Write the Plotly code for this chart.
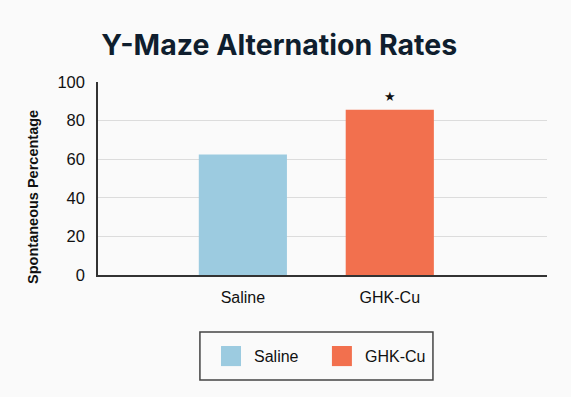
import plotly.graph_objects as go

categories = ["Saline", "GHK-Cu"]
values = [62.5, 85.6]
colors = ["#9ccbe0", "#f2704e"]
y_ticks = [0, 20, 40, 60, 80, 100]
significance = ["", "★"]
y_title = "Spontaneous Percentage"

fig = go.Figure()
fig.add_trace(go.Bar(
    x=categories, y=values, width=0.6,
    marker=dict(color=colors, line=dict(width=0)),
    showlegend=False, hoverinfo="x+y",
))
# significance markers
for c, v, s in zip(categories, values, significance):
    if s:
        fig.add_annotation(x=c, y=v, text=s, showarrow=False, yshift=13,
                           font=dict(size=13, color="#111111", family="DejaVu Sans"))

# y-axis title (placed as annotation to match offset)
fig.add_annotation(xref="paper", yref="paper", x=-0.145, y=0.404, text="<b>" + y_title + "</b>",
                   textangle=-90, showarrow=False, xanchor="center", yanchor="middle",
                   font=dict(size=14.5, color="#111111", family="Liberation Sans"))

# custom legend
lx0, lx1, ly0, ly1 = 0.227, 0.746, -0.295, -0.544
fig.add_shape(type="rect", xref="paper", yref="paper", x0=lx0, x1=lx1, y0=ly0, y1=ly1,
              line=dict(color="#444444", width=1.5), fillcolor="rgba(0,0,0,0)")
sw_x = [0.274, 0.521]
for c, col, sx in zip(categories, colors, sw_x):
    fig.add_shape(type="rect", xref="paper", yref="paper", x0=sx, x1=sx + 0.0445,
                  y0=-0.368, y1=-0.472, line=dict(width=0), fillcolor=col)
    fig.add_annotation(xref="paper", yref="paper", x=sx + 0.07, y=-0.42, text=c,
                       showarrow=False, xanchor="left", yanchor="middle",
                       font=dict(size=16, color="#111111", family="Liberation Sans"))

fig.update_layout(
    width=571, height=397,
    margin=dict(l=98, r=24, t=82, b=122),
    paper_bgcolor="#fafafa", plot_bgcolor="#fafafa",
    title=dict(text="<b>Y-Maze Alternation Rates</b>", x=0.489, xanchor="center",
               y=0.887, yanchor="middle", yref="container",
               font=dict(size=28.5, color="#0f1e2e", family="Inter")),
    xaxis=dict(type="category", range=[-0.986, 2.07], showgrid=False,
               showline=True, linecolor="#333333", linewidth=1.5,
               ticks="", ticklabelstandoff=7,
               tickfont=dict(size=16, color="#111111", family="Liberation Sans")),
    yaxis=dict(range=[0, 100], tickvals=y_ticks, showgrid=True, gridcolor="#dcdcdc",
               gridwidth=1, showline=True, linecolor="#333333", linewidth=1.5,
               ticks="", ticklabelstandoff=8, zeroline=False,
               tickfont=dict(size=16.5, color="#111111", family="Liberation Sans")),
)
fig.write_html("out.html", config={"displayModeBar": False},
               post_script="document.body.style.margin='0';document.body.style.background='#fafafa';")
